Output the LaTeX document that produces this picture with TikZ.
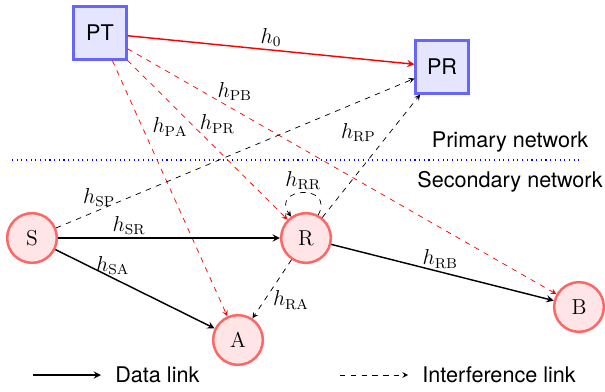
\documentclass[tikz,border=0pt]{standalone}
\usepackage{fontspec}
\setsansfont{TeX Gyre Heros}
\usetikzlibrary{arrows}
\begin{document}
\begin{tikzpicture}[x=0.5556pt, y=-0.5556pt,
  font=\fontsize{12}{14.4}\selectfont, >=stealth,
  prim/.style={draw=blue!60, fill=blue!10, line width=1.2pt, minimum size=29.4pt,
    inner sep=0pt, font=\fontsize{12}{14.4}\selectfont\sffamily},
  sec/.style={circle, draw=red!60, fill=red!10, line width=1.4pt,
    minimum size=27.6pt, inner sep=0pt},
  data/.style={->, thick},
  intf/.style={->, dashed},
  pint/.style={->, dashed, red},
  lab/.style={inner sep=1.5pt, text=black},
  caption/.style={font=\fontsize{12}{14.4}\selectfont\sffamily, inner sep=0pt}]

\useasboundingbox (0,0) rectangle (605,392);

% primary network
\node[prim] (PT) at (100,33) {PT};
\node[prim] (PR) at (442,67) {PR};

% secondary network
\node[sec] (S) at (32,238) {S};
\node[sec] (R) at (306,238) {R};
\node[sec] (A) at (238,340) {A};
\node[sec] (B) at (579,307) {B};

% boundary between the two networks
\coordinate (sepL) at (12,160);
\coordinate (sepR) at (580,160);
\draw[blue, dotted, semithick] (sepL) -- (sepR);
\node[caption, anchor=base] (prinet) at (510,148) {Primary network};
\node[caption, anchor=base] (secnet) at (510,188) {Secondary network};

% interference from the primary transmitter
\draw[pint] (PT) -- node[lab, right, pos=0.26, xshift=4pt] (lPA) {$h_{\mathrm{PA}}$} (A);
\draw[pint] (PT) -- node[lab, right, pos=0.40, xshift=3pt] (lPR) {$h_{\mathrm{PR}}$} (R);
\draw[pint] (PT) -- node[lab, above, pos=0.25, yshift=3.5pt] (lPB) {$h_{\mathrm{PB}}$} (B);

% interference from the secondary network
\draw[intf] (S) -- node[lab, above, pos=0.12] (lSP) {$h_{\mathrm{SP}}$} (PR);
\draw[intf] (R) -- node[lab, left, pos=0.67, xshift=-5pt, yshift=1.5pt] (lRP) {$h_{\mathrm{RP}}$} (PR);
\draw[intf] (R) -- node[lab, right, pos=0.69, xshift=3pt] (lRA) {$h_{\mathrm{RA}}$} (A);
\draw[intf] (R) to[out=62, in=125, distance=20pt]
  node[lab, above] (lRR) {$h_{\mathrm{RR}}$} (R);

% primary link
\draw[data, red] (PT) -- node[lab, above] (l0) {$h_0$} (PR);

% data links
\draw[data] (S) -- node[lab, above, pos=0.32] (lSR) {$h_{\mathrm{SR}}$} (R);
\draw[data] (S) -- node[lab, above, pos=0.36] (lSA) {$h_{\mathrm{SA}}$} (A);
\draw[data] (R) -- node[lab, above, pos=0.49] (lRB) {$h_{\mathrm{RB}}$} (B);

% legend
\coordinate (d0) at (33,375);
\coordinate (d1) at (101,375);
\draw[data] (d0) -- (d1);
\node[caption, anchor=base west] (dtxt) at (115,382.5) {Data link};
\coordinate (i0) at (340,375);
\coordinate (i1) at (408,375);
\draw[intf] (i0) -- (i1);
\node[caption, anchor=base west] (itxt) at (422,382.5) {Interference link};
\end{tikzpicture}
\end{document}
